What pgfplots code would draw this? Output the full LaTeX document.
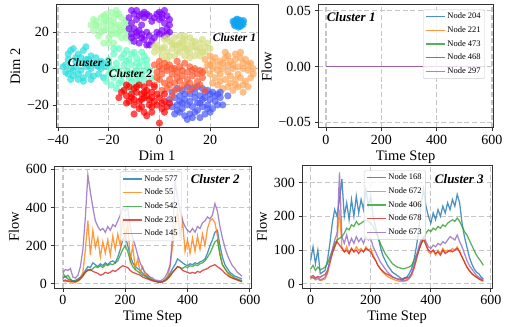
\documentclass[border=0pt]{standalone}
\usepackage{pgfplots}
\usepackage{pgfplotstable}
\pgfplotsset{compat=1.18}
\usepackage{fontspec}
\setmainfont{Liberation Serif}

\definecolor{tabblue}{HTML}{1F77B4}
\definecolor{taborange}{HTML}{FF7F0E}
\definecolor{tabgreen}{HTML}{2CA02C}
\definecolor{tabred}{HTML}{D62728}
\definecolor{tabpurple}{HTML}{9467BD}
\definecolor{r0}{rgb}{0.5,0,1}
\definecolor{r1}{rgb}{0.278,0.342,0.985}
\definecolor{r2}{rgb}{0.056,0.643,0.940}
\definecolor{r3}{rgb}{0.167,0.866,0.866}
\definecolor{r4}{rgb}{0.389,0.985,0.766}
\definecolor{r5}{rgb}{0.611,0.985,0.643}
\definecolor{r6}{rgb}{0.833,0.866,0.5}
\definecolor{r7}{rgb}{1,0.643,0.342}
\definecolor{r8}{rgb}{1,0.342,0.174}
\definecolor{r9}{rgb}{1,0,0}

\pgfplotstableread{
t a b c d e
0 30 15 55 15 60
8 40 10 35 20 75
16 25 20 45 12 70
24 20 8 25 15 80
32 15 12 15 10 35
40 18 6 12 12 30
48 25 15 20 15 45
56 35 30 30 25 90
64 50 60 45 40 180
72 70 180 60 60 350
80 90 330 75 70 570
88 85 150 70 75 480
96 110 280 80 65 400
104 100 190 90 60 330
112 90 240 85 55 300
120 105 140 95 45 280
128 95 220 85 50 290
136 110 160 100 60 270
144 100 230 95 55 300
152 115 150 105 60 280
160 120 250 100 70 310
168 110 180 110 65 300
176 140 260 120 75 330
184 180 200 150 85 360
192 230 350 180 95 400
200 250 230 200 90 380
208 200 330 170 85 400
216 150 120 120 70 300
224 110 200 90 60 240
232 90 80 75 55 200
240 80 130 65 50 150
248 70 60 55 45 110
256 55 90 45 35 80
264 45 40 40 30 60
272 35 50 30 25 45
280 25 30 25 20 35
288 20 20 20 15 30
296 15 15 15 12 20
304 12 10 10 10 18
312 10 8 10 8 15
320 12 10 12 10 22
328 20 20 20 15 35
336 35 40 30 25 60
344 55 90 45 40 100
352 80 200 60 60 250
360 100 300 75 75 540
368 130 380 90 90 450
376 120 250 85 85 380
384 110 330 80 70 330
392 100 170 90 65 300
400 95 230 85 60 280
408 105 160 95 55 270
416 100 240 90 60 290
424 110 170 100 55 270
432 105 250 95 65 300
440 115 180 105 60 290
448 120 260 110 70 320
456 130 200 120 75 330
464 160 290 140 80 350
472 200 330 160 90 340
480 230 340 190 95 360
488 270 320 220 100 420
496 280 250 230 90 380
504 200 160 150 80 300
512 140 100 100 70 240
520 100 80 80 55 190
528 80 60 60 45 150
536 60 40 50 35 120
544 50 30 40 30 95
552 40 25 30 25 80
560 35 20 25 20 60
568 30 15 20 15 50
575 25 10 15 12 40
}\ctwo

\pgfplotstableread{
t a b c d e
0 70 15 45 20 20
8 110 20 55 25 18
16 60 12 40 18 15
24 100 15 50 22 20
32 30 10 42 20 12
40 35 12 45 25 15
48 40 15 50 28 20
56 70 30 60 40 35
64 120 60 80 65 70
72 180 90 100 90 100
80 220 110 120 110 130
88 200 130 130 125 150
96 250 220 135 115 330
104 310 110 140 105 140
112 200 95 150 95 120
120 240 110 165 100 145
128 190 90 160 90 115
136 250 105 175 105 135
144 200 95 170 95 120
152 260 110 185 100 140
160 210 100 175 90 125
168 250 105 180 100 135
176 220 95 185 95 120
184 280 110 190 105 140
192 230 100 185 100 130
200 260 105 180 95 135
208 200 85 170 80 110
216 170 70 155 70 95
224 140 55 140 55 80
232 110 45 120 45 65
240 85 35 105 38 55
248 70 28 90 32 45
256 55 22 80 28 35
264 45 18 70 25 28
272 35 15 60 20 22
280 30 12 55 18 18
288 25 10 50 15 15
296 20 8 48 15 12
304 15 7 45 12 10
312 18 8 45 15 10
320 20 10 48 18 12
328 30 15 50 20 18
336 45 25 55 30 30
344 70 45 70 50 55
352 110 70 85 75 80
360 160 100 100 100 110
368 240 120 120 120 130
376 280 130 135 135 140
384 230 115 150 115 125
392 200 95 160 100 110
400 180 90 155 95 105
408 210 100 165 100 115
416 190 85 160 90 110
424 220 100 170 95 120
432 200 90 165 85 115
440 230 105 175 100 125
448 210 95 170 90 120
456 240 100 180 95 130
464 220 95 185 100 140
472 250 105 190 95 135
480 230 100 185 100 130
488 265 110 195 105 145
496 240 95 185 95 125
504 180 80 170 80 110
512 140 65 155 65 90
520 110 50 145 50 70
528 80 40 130 40 55
536 60 30 115 32 45
544 45 25 100 25 35
552 35 20 85 20 25
560 30 15 75 15 20
568 20 10 65 12 15
575 15 8 55 10 12
}\cthree

\tikzset{cl/.style={font=\fontsize{#1}{#1}\selectfont\bfseries\itshape}}

\pgfplotsset{
  base/.style={
    scale only axis,
    anchor=south west,
    scaled ticks=false,
    /pgf/number format/assume math mode=true,
    tick label style={font=\fontsize{14}{15}\selectfont},
    label style={font=\fontsize{14.5}{16}\selectfont},
    axis line style={black!80, line width=1pt},
    tick align=outside,
    tick pos=left,
    major tick length=3.5pt,
    tick style={black!80, line width=0.8pt},
    grid=major,
    major grid style={gray!45, line width=1.1pt, dash pattern=on 5pt off 2.7pt},
  },
  ts/.style={
    base,
    xmin=-28.75, xmax=603.75,
    xtick={0,200,400,600},
    xticklabels={0,200,400,600},
    xlabel={Time Step},
    ylabel={Flow},
    legend cell align=left,
    legend image code/.code={\draw[##1] (0pt,0pt) -- (19pt,0pt);},
    legend style={font=\fontsize{8.5}{9}\selectfont, draw=black!20, fill=white,
      fill opacity=0.8, text opacity=1, rounded corners=1.5pt,
      inner xsep=2pt, inner ysep=1.5pt, row sep=2.3pt},
  },
  ln/.style={line width=1.25pt, opacity=0.8},
  sc/.style={only marks, mark=*, mark size=3.6pt, color=#1,
    mark options={draw=#1, fill=#1, draw opacity=0, fill opacity=0.7}},
}

\begin{document}
\begin{tikzpicture}
\path[use as bounding box] (0pt,0pt) rectangle (505pt,326pt);

% ---------------- Scatter ----------------
\begin{axis}[base, at={(56pt,198pt)}, width=202pt, height=123pt,
  axis on top,
  xmin=-40.8, xmax=38.9, ymin=-32.7, ymax=35,
  xtick={-40,-20,0,20}, xticklabels={−40,−20,0,20},
  ytick={-20,0,20}, yticklabels={−20,0,20},
  xlabel={Dim 1}, ylabel={Dim 2}]
\addplot[sc=r5] coordinates {(-25,26) (-23,28) (-21,30) (-19,31) (-17,30) (-15,28) (-13,26) (-24,23) (-22,25) (-20,27) (-18,25) (-16,24) (-14,22) (-12,21) (-26,21) (-23,20) (-21,22) (-19,21) (-17,19) (-15,17) (-13,17) (-20,17) (-24,18) (-22,14) (-18,14) (-11,15) (-16,20) (-12,24) (-27,24) (-19,24) (-17,32)
 (-22,29) (-18,28) (-16,30) (-14,25) (-25,24) (-21,26) (-17,22) (-19,19) (-22,21) (-15,21) (-13,19) (-26,27) (-20,14)};
\addplot[sc=r3] coordinates {(-35,10) (-34,11) (-29,12) (-36,5) (-33,4) (-31,6) (-29,5) (-27,7) (-25,6) (-23,4) (-37,2) (-35,0) (-33,1) (-31,-1) (-29,1) (-27,0) (-25,2) (-23,0) (-21,1) (-36,-3) (-34,-4) (-32,-3) (-30,-5) (-28,-3) (-26,-4) (-24,-3) (-22,-5) (-35,-6) (-30,-7) (-38,1) (-20,3) (-26,3) (-32,8)
 (-33,6) (-30,3) (-28,2) (-34,-1) (-32,-6) (-27,-6) (-24,1) (-36,8) (-30,10) (-22,3) (-37,-2) (-28,5)};
\addplot[sc=r4] coordinates {(-16,11) (-13,10) (-11,8) (-18,8) (-15,6) (-12,5) (-9,6) (-7,4) (-20,5) (-17,3) (-14,2) (-11,2) (-8,1) (-5,2) (-19,0) (-16,-1) (-13,-1) (-10,-2) (-7,-3) (-4,-1) (-20,-3) (-18,-5) (-15,-4) (-12,-5) (-9,-6) (-6,-6) (-19,-9) (-16,-8) (-13,-9) (-10,-10) (-8,-8) (-21,-7) (-14,-12) (-5,5) (-3,-5) (-10,9) (-7,9)
 (-14,8) (-17,0) (-12,-2) (-9,-1) (-6,-1) (-15,-7) (-11,-7) (-8,-4) (-17,-11) (-13,4) (-9,3) (-18,11) (-6,7) (-11,-12)};
\addplot[sc=r0] coordinates {(-11,32) (-10,30) (-8,29) (-6,28) (-4,29) (-2,28) (0,31) (1,30) (3,29) (4,27) (2,25) (3,22) (4,20) (1,21) (-1,20) (2,18) (-9,27) (-11,25) (-10,22) (-8,21) (-11,19) (-9,18) (-7,17) (-10,15) (-8,14) (-6,16) (-5,13) (-3,15) (-4,18) (-5,20) (-7,24) (-3,26) (0,27) (-12,28) (-6,31) (2,32)
 (-9,32) (-7,30) (-5,30) (-1,30) (1,28) (4,24) (3,19) (0,19) (-2,17) (-4,13) (-9,20) (-12,22) (-7,19) (-11,17)};
\addplot[sc=r6] coordinates {(-2,9) (0,10) (2,12) (4,15) (6,17) (8,18) (10,16) (12,17) (14,15) (16,14) (18,12) (20,11) (1,7) (3,9) (5,11) (7,13) (9,12) (11,10) (13,12) (15,10) (17,9) (3,5) (6,7) (8,9) (10,7) (12,6) (14,7) (5,14) (9,15) (-1,13) (2,16) (7,10) (19,14) (11,13) (16,7)
 (4,7) (6,13) (8,14) (10,11) (12,9) (14,12) (16,11) (18,9) (1,11) (-2,12) (13,15) (10,18) (3,17) (17,16)};
\addplot[sc=r2] coordinates {(29.5,25.5) (30,26.5) (31,27) (32,26.5) (33,25.5) (32.5,24) (31.5,23.5) (30.5,24.5) (31,25.5) (32,25) (30,25) (29.5,24) (32,23.2) (33,24.3)
 (29,26) (30.5,27.2) (33.2,26.4) (31.2,22.8) (30,23.4)};
\addplot[sc=r7] coordinates {(18,5) (20,7) (22,6) (24,4) (26,6) (28,4) (30,5) (32,6) (34,5) (36,3) (19,2) (21,0) (23,2) (25,0) (27,2) (29,0) (31,1) (33,0) (35,-1) (37,-3) (20,-3) (22,-5) (24,-3) (26,-6) (28,-4) (30,-6) (32,-5) (34,-7) (36,-5) (23,-9) (25,-11) (27,-10) (29,-12) (31,-10) (21,-8) (33,-13) (26,9) (30,8) (18,-1) (35,-10)
 (21,4) (23,-1) (25,3) (27,-2) (29,2) (31,-3) (33,3) (35,2) (28,-8) (30,-9) (24,-7) (33,-9) (37,0) (20,2) (27,7) (32,9)};
\addplot[sc=r1] coordinates {(5,-13) (7,-11) (9,-12) (11,-10) (13,-11) (15,-10) (17,-11) (19,-12) (21,-13) (23,-14) (4,-17) (6,-16) (8,-15) (10,-17) (12,-14) (14,-16) (16,-15) (18,-16) (20,-17) (22,-18) (24,-16) (5,-21) (7,-20) (9,-22) (11,-20) (13,-21) (15,-19) (17,-21) (19,-20) (21,-22) (8,-24) (10,-26) (12,-25) (14,-24) (16,-27) (18,-25) (25,-20) (27,-15) (6,-25) (11,-28) (20,-24)
 (8,-18) (10,-14) (12,-18) (14,-13) (16,-19) (18,-13) (20,-14) (22,-15) (24,-13) (7,-23) (13,-27) (15,-23) (17,-17) (9,-19) (19,-22) (23,-20)};
\addplot[sc=r8] coordinates {(-2,2) (0,1) (2,3) (4,2) (6,0) (8,1) (10,3) (12,1) (14,0) (16,-1) (-1,-2) (1,-3) (3,-1) (5,-3) (7,-2) (9,-4) (11,-2) (13,-4) (15,-3) (17,-5) (0,-6) (2,-8) (4,-6) (6,-8) (8,-7) (10,-9) (12,-8) (14,-10) (16,-9) (-2,-9) (1,-12) (3,-11) (18,-12) (5,-15) (7,4) (0,4)
 (1,0) (3,1) (5,0) (7,-5) (9,-1) (11,-6) (13,-1) (15,-7) (4,-9) (6,-12) (8,-11) (12,-12) (-1,-5) (17,-2)};
\addplot[sc=r9] coordinates {(-14,-12) (-12,-10) (-10,-11) (-8,-9) (-6,-10) (-4,-8) (-2,-10) (-13,-15) (-11,-14) (-9,-13) (-7,-14) (-5,-12) (-3,-13) (-1,-14) (-12,-18) (-10,-17) (-8,-18) (-6,-16) (-4,-17) (-2,-18) (0,-16) (2,-18) (3,-21) (1,-22) (-3,-21) (-7,-21) (-10,-20) (-16,-16) (-10,-25) (-6,-24) (-5,-26) (-3,-24) (0,-30) (4,-19) (2,-14) (-15,-13)
 (-13,-9) (-9,-10) (-5,-15) (-3,-16) (-11,-16) (-7,-17) (-1,-20) (1,-19) (-8,-22) (-4,-20) (2,-24) (-13,-19) (-6,-13)};
\coordinate (lab1) at (axis cs:29.6,17.2);
\coordinate (lab3) at (axis cs:-27.6,3.5);
\coordinate (lab2) at (axis cs:-11.4,-2.6);
\end{axis}
\node[cl=11.5] at (lab1) {Cluster 1};
\node[cl=11.5] at (lab3) {Cluster 3};
\node[cl=11.5] at (lab2) {Cluster 2};

% ---------------- Cluster 1 ----------------
\begin{axis}[ts, at={(318pt,198pt)}, width=175pt, height=123pt,
  ymin=-0.055, ymax=0.055,
  ytick={-0.05,0,0.05}, yticklabels={−0.05,0.00,0.05},
  legend style={at={(0.6,0.965)}, anchor=north west}]
\addplot[ln, tabblue] coordinates {(0,0) (575,0)};
\addplot[ln, taborange] coordinates {(0,0) (575,0)};
\addplot[ln, tabgreen] coordinates {(0,0) (575,0)};
\addplot[ln, tabred] coordinates {(0,0) (575,0)};
\addplot[ln, tabpurple] coordinates {(0,0) (575,0)};
\legend{Node 204, Node 221, Node 473, Node 468, Node 297}
\node[anchor=north west, cl=13] at (rel axis cs:0.03,0.965) {Cluster 1};
\end{axis}

% ---------------- Cluster 2 ----------------
\begin{axis}[ts, at={(54pt,38pt)}, width=197pt, height=122pt,
  ymin=-22, ymax=617,
  ytick={0,200,400,600}, yticklabels={0,200,400,600},
  legend style={at={(0.335,0.955)}, anchor=north west}]
\addplot[ln, tabblue] table[x=t,y=a] {\ctwo};
\addplot[ln, taborange] table[x=t,y=b] {\ctwo};
\addplot[ln, tabgreen] table[x=t,y=c] {\ctwo};
\addplot[ln, tabred] table[x=t,y=d] {\ctwo};
\addplot[ln, tabpurple] table[x=t,y=e] {\ctwo};
\legend{Node 577, Node 55, Node 542, Node 231, Node 145}
\node[anchor=north east, cl=13] at (rel axis cs:0.96,0.96) {Cluster 2};
\end{axis}

% ---------------- Cluster 3 ----------------
\begin{axis}[ts, at={(302pt,38pt)}, width=190pt, height=122pt,
  ymin=-12, ymax=349,
  ytick={0,100,200,300}, yticklabels={0,100,200,300},
  legend style={at={(0.326,0.965)}, anchor=north west}]
\addplot[ln, tabblue] table[x=t,y=a] {\cthree};
\addplot[ln, taborange] table[x=t,y=b] {\cthree};
\addplot[ln, tabgreen] table[x=t,y=c] {\cthree};
\addplot[ln, tabred] table[x=t,y=d] {\cthree};
\addplot[ln, tabpurple] table[x=t,y=e] {\cthree};
\legend{Node 168, Node 672, Node 406, Node 678, Node 673}
\node[anchor=north east, cl=13] at (rel axis cs:0.975,0.96) {Cluster 3};
\end{axis}
\end{tikzpicture}
\end{document}
